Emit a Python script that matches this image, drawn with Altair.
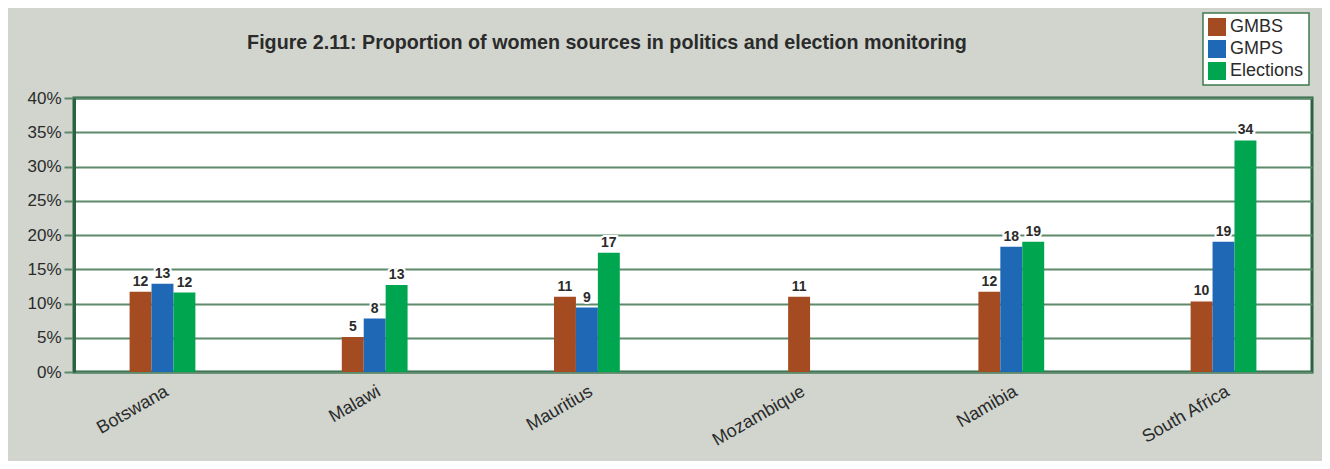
import altair as alt
import pandas as pd

countries = ["Botswana", "Malawi", "Mauritius", "Mozambique", "Namibia", "South Africa"]
series = ["GMBS", "GMPS", "Elections"]
gmbs = [11.7, 5.1, 11.0, 11.0, 11.7, 10.3]
gmps = [12.9, 7.8, 9.4, None, 18.3, 19.0]
elections = [11.6, 12.7, 17.4, None, 19.0, 33.8]
y_ticks = [0, 5, 10, 15, 20, 25, 30, 35, 40]
colors = ["#A54B22", "#1F68B5", "#00A550"]

rows = []
for i, c in enumerate(countries):
    present = [(s, v) for s, v in zip(series, [gmbs[i], gmps[i], elections[i]]) if v is not None]
    for s, v in present:
        slot = s if len(present) > 1 else "GMPS"
        rows.append({"country": c, "series": s, "slot": slot, "value": v})
df = pd.DataFrame(rows)

FONT = "Liberation Sans"
TXT = "#2B2B2B"
GRID = "#5D8A6A"
FRAME = "#2B6342"

x = alt.X("country:N", sort=countries,
          scale=alt.Scale(paddingInner=0.69, paddingOuter=0.262),
          axis=alt.Axis(title=None, labelAngle=-30, labelFontSize=18, labelFont=FONT,
                        labelColor=TXT, ticks=False, domain=False, labelPadding=10,
                        grid=False))
xo = alt.XOffset("slot:N", sort=series, scale=alt.Scale(domain=series, paddingInner=0, paddingOuter=0))
y = alt.Y("value:Q", scale=alt.Scale(domain=[0, 40], nice=False),
          axis=alt.Axis(title=None, values=y_ticks, labelExpr="datum.value + '%'",
                        labelFontSize=17, labelFont=FONT, labelColor=TXT,
                        grid=True, gridColor=GRID, gridWidth=2, gridOpacity=1,
                        ticks=True, tickSize=10, tickColor=GRID, tickWidth=2,
                        domain=True, domainColor=FRAME, domainWidth=3, labelPadding=3))

base = alt.Chart(df)

bars = base.mark_bar(strokeWidth=0).encode(
    x=x, xOffset=xo, y=y,
    color=alt.Color("series:N", sort=series, scale=alt.Scale(domain=series, range=colors),
                    legend=alt.Legend(title=None, orient="none", legendX=1129, legendY=-85,
                                      fillColor="white", strokeColor="#3E7A50",
                                      padding=5, symbolType="square", symbolSize=324,
                                      symbolStrokeWidth=0, labelFontSize=18, labelFont=FONT,
                                      labelColor=TXT, rowPadding=4, labelOffset=4))
)

halo = base.transform_calculate(label="format(round(datum.value), 'd')").mark_text(
    baseline="bottom", dy=-3, fontWeight="bold", fontSize=14, font=FONT,
    color="white", stroke="white", strokeWidth=4
).encode(x=x, xOffset=xo, y=y, text="label:N")

labels = base.transform_calculate(label="format(round(datum.value), 'd')").mark_text(
    baseline="bottom", dy=-3, fontWeight="bold", fontSize=14, font=FONT, color=TXT
).encode(x=x, xOffset=xo, y=y, text="label:N")

chart = (bars + halo + labels).properties(
    width=1238, height=274,
    background="#D1D5CE",
    title=alt.Title("Figure 2.11: Proportion of women sources in politics and election monitoring",
                    font=FONT, fontSize=19.7, fontWeight="bold", color=TXT,
                    anchor="middle", dx=-86, offset=-40),
    autosize=alt.AutoSizeParams(type="none"),
    padding={"left": 66, "top": 90, "right": 10, "bottom": 89},
).configure_view(fill="white", stroke=FRAME, strokeWidth=3).configure_legend(strokeWidth=1.5)

chart.save("out.html", embed_options={"renderer": "svg", "actions": False})
